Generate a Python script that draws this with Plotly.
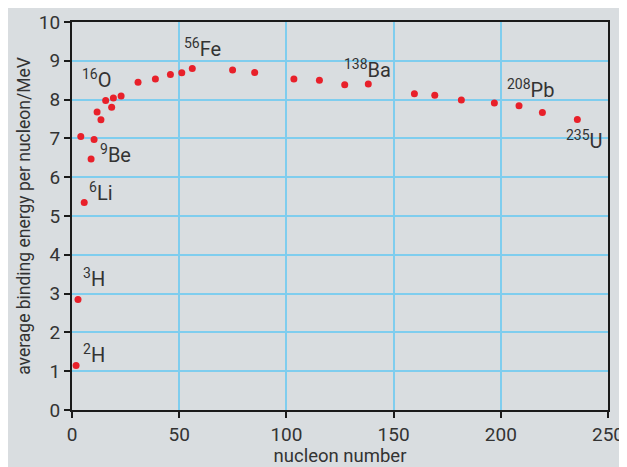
import plotly.graph_objects as go

# nucleon number (A) and average binding energy per nucleon (MeV)
nucleon_number = [1.9, 2.8, 4.1, 5.7, 8.9, 10.3, 11.7, 13.5, 15.7, 18.5, 19.3, 22.9,
                  30.8, 38.9, 45.9, 51.2, 56.1, 74.9, 85.2, 103.5, 115.4, 127.2,
                  138.2, 159.7, 169.2, 181.6, 197.0, 208.5, 219.4, 235.7]
binding_energy = [1.15, 2.85, 7.05, 5.35, 6.47, 6.97, 7.68, 7.48, 7.98, 7.80, 8.04, 8.09,
                  8.45, 8.53, 8.65, 8.69, 8.80, 8.76, 8.70, 8.53, 8.50, 8.38,
                  8.40, 8.15, 8.11, 7.99, 7.91, 7.84, 7.67, 7.49]

# labelled nuclides
label_mass = ["2", "3", "6", "9", "16", "56", "138", "208", "235"]
label_symbol = ["H", "H", "Li", "Be", "O", "Fe", "Ba", "Pb", "U"]
label_x = [4.2, 4.2, 7.0, 12.1, 3.7, 51.3, 126.0, 202.0, 229.5]
label_y = [1.45, 3.4, 5.62, 6.6, 8.52, 9.33, 8.78, 8.28, 6.95]

x_ticks = [0, 50, 100, 150, 200, 250]
y_ticks = list(range(0, 11))

BG = "#d9dde0"
GRID = "#7fcdee"
TEXT = "#333333"
FONT = "Roboto"

fig = go.Figure()
fig.add_trace(go.Scatter(
    x=nucleon_number, y=binding_energy, mode="markers",
    marker=dict(color="#e8202a", size=7), showlegend=False, hoverinfo="skip"))

for m, s, lx, ly in zip(label_mass, label_symbol, label_x, label_y):
    fig.add_annotation(x=lx, y=ly, xref="x", yref="y", text=f"<sup>{m}</sup>{s}",
                       showarrow=False, xanchor="left", yanchor="middle",
                       font=dict(family=FONT, size=20, color=TEXT))

fig.update_layout(
    width=619, height=459,
    margin=dict(l=64, r=19, t=14, b=57),
    paper_bgcolor=BG, plot_bgcolor=BG,
    font=dict(family=FONT, color=TEXT, size=18),
    xaxis=dict(range=[0, 250], tickvals=x_ticks, showgrid=True, gridcolor=GRID, gridwidth=1.5,
               showline=True, linecolor="#1a1a1a", linewidth=2, mirror=True,
               ticks="outside", ticklen=6, tickwidth=2, tickcolor="#1a1a1a",
               zeroline=False, automargin=False,
               title=dict(text="nucleon number", font=dict(size=18.5), standoff=6),
               tickfont=dict(size=19)),
    yaxis=dict(range=[0, 10], tickvals=y_ticks, showgrid=True, gridcolor=GRID, gridwidth=1.5,
               showline=True, linecolor="#1a1a1a", linewidth=2, mirror=True,
               ticks="outside", ticklen=6, tickwidth=2, tickcolor="#1a1a1a",
               zeroline=False, automargin=False,
               title=dict(text="average binding energy per nucleon/MeV", font=dict(size=17.5), standoff=4),
               tickfont=dict(size=19)),
)

fig.write_html("out.html")
